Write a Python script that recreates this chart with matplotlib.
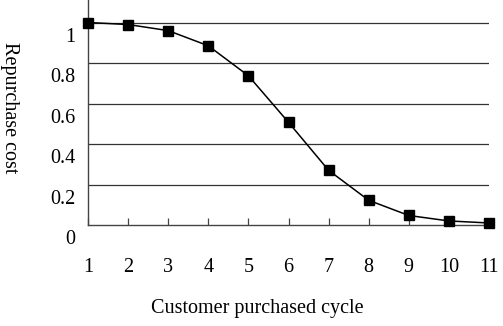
import matplotlib
matplotlib.use("Agg")
import matplotlib.pyplot as plt
import matplotlib.transforms as mtransforms

cycles = [1, 2, 3, 4, 5, 6, 7, 8, 9, 10, 11]
cost = [1.0, 0.99, 0.96, 0.885, 0.737, 0.507, 0.27, 0.122, 0.047, 0.02, 0.01]
yticks = [0, 0.2, 0.4, 0.6, 0.8, 1]
ytick_labels = ["0", "0.2", "0.4", "0.6", "0.8", "1"]

plt.rcParams['font.family'] = ['Liberation Serif', 'DejaVu Serif']

fig = plt.figure(figsize=(5.03, 3.26), dpi=100)
ax = fig.add_axes([88/503, 1-225/326, (489-88)/503, 225/326])

ax.plot(cycles, cost, color='black', lw=1.1, marker='s', markersize=7,
        markerfacecolor='black', markeredgecolor='black', clip_on=False, zorder=5)

ax.set_xlim(1, 11)
ax.set_ylim(0, 225/202.5)
ax.set_xticks(cycles)
ax.set_xticklabels([str(c) for c in cycles], fontsize=14.5)
ax.set_yticks(yticks)
ax.set_yticklabels(ytick_labels, fontsize=14.5)

for y in yticks[1:]:
    ax.axhline(y, color='#333333', lw=0.9, zorder=1)

for s in ['top', 'right']:
    ax.spines[s].set_visible(False)
for s in ['left', 'bottom']:
    ax.spines[s].set_color('#444444')
    ax.spines[s].set_linewidth(1.0)

ax.tick_params(axis='x', direction='in', length=5, width=0.9, color='#444444', pad=24)
ax.tick_params(axis='y', length=0, pad=9)

offset = mtransforms.ScaledTranslation(0, -12/100, fig.dpi_scale_trans)
for lab in ax.get_yticklabels():
    lab.set_transform(lab.get_transform() + offset)

fig.text(257/503, 1-309/326, "Customer purchased cycle", ha='center', va='center', fontsize=14.5)
fig.text(9/503, 1-108/326, "Repurchase cost", ha='center', va='center', rotation=270, fontsize=14.5)

fig.savefig("out.png", dpi=100)
